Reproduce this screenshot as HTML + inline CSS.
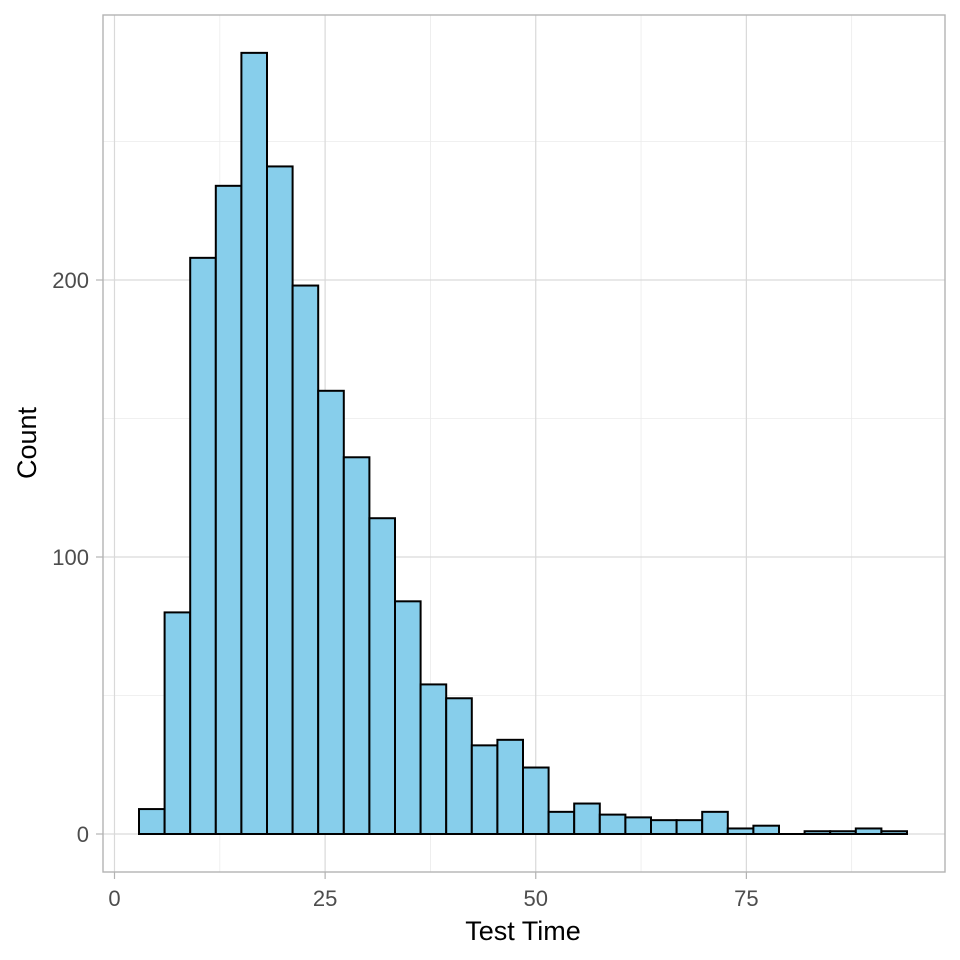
<!DOCTYPE html>
<html><head><meta charset="utf-8"><style>
html,body{margin:0;padding:0;background:#fff;}
svg{display:block;font-family:"Liberation Sans",Arial,sans-serif;}
</style></head><body>
<svg id="s" width="960" height="960" viewBox="0 0 960 960" xmlns="http://www.w3.org/2000/svg">
<rect width="960" height="960" fill="#fff"/>
<g id="grid"></g>
<g id="bars"></g>
<rect x="103" y="15" width="842" height="857" fill="none" stroke="#b3b3b3" stroke-width="1.4"/>
<g id="ticks" fill="#4d4d4d" font-size="22"></g>
<text x="523" y="940" font-size="27" text-anchor="middle" fill="#000">Test Time</text>
<text transform="translate(36,443) rotate(-90)" font-size="27" text-anchor="middle" fill="#000">Count</text>
</svg>
<script>
var NS="http://www.w3.org/2000/svg";
function el(p,t,a,txt){var e=document.createElementNS(NS,t);for(var k in a)e.setAttribute(k,a[k]);if(txt!=null)e.textContent=txt;document.getElementById(p).appendChild(e);}
var X=function(v){return 114.5+v*8.425;};
var Y=function(c){return 834-c*2.77;};
[12.5,37.5,62.5,87.5].forEach(function(v){el("grid","line",{x1:X(v),x2:X(v),y1:15,y2:872,stroke:"#ebebeb","stroke-width":0.8});});
[50,150,250].forEach(function(v){el("grid","line",{x1:103,x2:945,y1:Y(v),y2:Y(v),stroke:"#ebebeb","stroke-width":0.8});});
[0,25,50,75].forEach(function(v){el("grid","line",{x1:X(v),x2:X(v),y1:15,y2:872,stroke:"#d9d9d9","stroke-width":1.2});
 el("ticks","line",{x1:X(v),x2:X(v),y1:872,y2:879,stroke:"#b3b3b3","stroke-width":1.2});
 el("ticks","text",{x:X(v),y:906,"text-anchor":"middle"},v);});
[0,100,200].forEach(function(v){el("grid","line",{x1:103,x2:945,y1:Y(v),y2:Y(v),stroke:"#d9d9d9","stroke-width":1.2});
 el("ticks","line",{x1:96,x2:103,y1:Y(v),y2:Y(v),stroke:"#b3b3b3","stroke-width":1.2});
 el("ticks","text",{x:89,y:Y(v)+8,"text-anchor":"end"},v);});
var c=[9,80,208,234,282,241,198,160,136,114,84,54,49,32,34,24,8,11,7,6,5,5,8,2,3,0,1,1,2,1];
for(var i=0;i<c.length;i++){var x0=139+i*25.6,h=c[i]*2.77;
 el("bars","rect",{x:x0,y:834-h,width:25.6,height:h,fill:"#87ceeb",stroke:"#000","stroke-width":2});
 if(c[i]==0) el("bars","line",{x1:x0,x2:x0+25.6,y1:834,y2:834,stroke:"#000","stroke-width":2});}
</script>
</body></html>
